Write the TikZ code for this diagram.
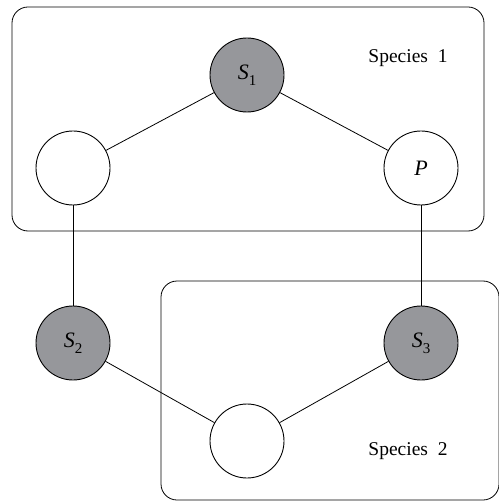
\documentclass[tikz,border=0pt]{standalone}
\usepackage{fontspec}
\setmainfont{Liberation Serif}
\newcommand\lowidx[1]{\raisebox{-0.28em}{\fontsize{15}{15}\selectfont #1}}
\definecolor{nodegrey}{RGB}{150,151,155}
\begin{document}
\begin{tikzpicture}[x=1pt,y=-1pt,
  every node/.style={font=\fontsize{22}{22}\selectfont},
  var/.style={circle,draw=black,line width=0.9pt,minimum size=74pt,inner sep=0pt,fill=white},
  obs/.style={var,fill=nodegrey},
  link/.style={line width=0.8pt},
  plate/.style={line width=0.8pt,rounded corners=16pt},
  platelabel/.style={font=\fontsize{19.5}{19.5}\selectfont}]
\useasboundingbox (0,0) rectangle (498,502);

% plates
\draw[plate] (12,7) rectangle (484,231);
\draw[plate] (161,281) rectangle (499,500);
\node[platelabel] (lab1) at (408,58) {Species\ \ 1};
\node[platelabel] (lab2) at (408,451) {Species\ \ 2};

% variables
\node[obs] (s1) at (247,75) {\textit{S}\lowidx{1}};
\node[var] (a) at (73,168) {};
\node[var] (p) at (421,168) {\textit{P}};
\node[obs] (s2) at (73,343) {\textit{S}\lowidx{2}};
\node[obs] (s3) at (421,343) {\textit{S}\lowidx{3}};
\node[var] (b) at (247,441) {};

% edges
\draw[link] (s1) -- (a);
\draw[link] (s1) -- (p);
\draw[link] (a) -- (s2);
\draw[link] (p) -- (s3);
\draw[link] (s2) -- (b);
\draw[link] (s3) -- (b);
\end{tikzpicture}
\end{document}
